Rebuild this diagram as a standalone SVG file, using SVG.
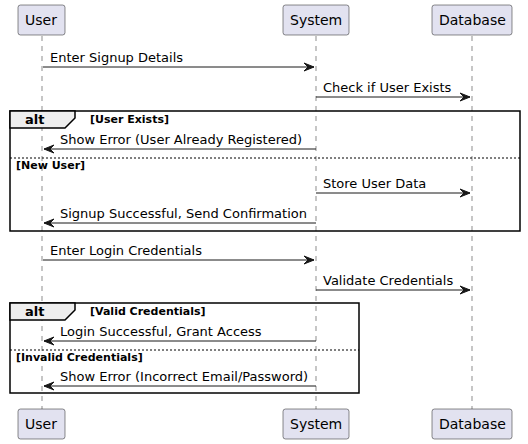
<svg xmlns="http://www.w3.org/2000/svg" width="528" height="444" viewBox="0 0 528 444">
<style>
.part rect{fill:#E2E2F0;stroke:#181818;stroke-width:0.5}
.part text{font-family:"DejaVu Sans",sans-serif;font-size:14px;fill:#000}
.life{stroke:#181818;stroke-width:0.5;stroke-dasharray:5,5}
.msg line{stroke:#181818;stroke-width:1}
.msg polygon{fill:#181818;stroke:#181818;stroke-width:1}
.mt{font-family:"DejaVu Sans",sans-serif;font-size:13px;fill:#000}
.frame{fill:none;stroke:#000;stroke-width:1.5}
.tab{fill:#EEEEEE;stroke:#000;stroke-width:1.5}
.altt{font-family:"DejaVu Sans",sans-serif;font-size:13px;font-weight:bold}
.guard{font-family:"DejaVu Sans",sans-serif;font-size:11px;font-weight:bold}
.sep{stroke:#000;stroke-width:1;stroke-dasharray:2,2}
</style>
<g id="lifelines">
<line class="life" x1="42" y1="36" x2="42" y2="409"/>
<line class="life" x1="316" y1="36" x2="316" y2="409"/>
<line class="life" x1="472" y1="36" x2="472" y2="409"/>
</g>
<g id="alt1">
<rect class="frame" x="10" y="111" width="510" height="120"/>
<path class="tab" d="M10,111 L75,111 L75,118 L65,128 L10,128 Z"/>
<text class="altt" x="25" y="124">alt</text>
<text class="guard" x="90" y="123">[User Exists]</text>
<line class="sep" x1="10" y1="158" x2="520" y2="158"/>
<text class="guard" x="16" y="169">[New User]</text>
</g>
<g id="alt2">
<rect class="frame" x="10" y="303" width="349" height="90"/>
<path class="tab" d="M10,303 L75,303 L75,310 L65,320 L10,320 Z"/>
<text class="altt" x="25" y="316">alt</text>
<text class="guard" x="90" y="315">[Valid Credentials]</text>
<line class="sep" x1="10" y1="350" x2="359" y2="350"/>
<text class="guard" x="16" y="361">[Invalid Credentials]</text>
</g>
<g id="User" class="part">
<rect x="18" y="5" width="47" height="30" rx="2.5"/>
<text x="25" y="25">User</text>
<rect x="18" y="409" width="47" height="30" rx="2.5"/>
<text x="25" y="429">User</text>
</g>
<g id="System" class="part">
<rect x="283" y="5" width="66" height="30" rx="2.5"/>
<text x="290" y="25">System</text>
<rect x="283" y="409" width="66" height="30" rx="2.5"/>
<text x="290" y="429">System</text>
</g>
<g id="Database" class="part">
<rect x="432" y="5" width="80" height="30" rx="2.5"/>
<text x="439" y="25">Database</text>
<rect x="432" y="409" width="80" height="30" rx="2.5"/>
<text x="439" y="429">Database</text>
</g>
<g id="connectors" class="msg">
<line x1="43" y1="67" x2="314" y2="67"/><polygon points="304,63 314,67 304,71 308,67"/>
<text class="mt" x="50" y="62">Enter Signup Details</text>
<line x1="316" y1="97" x2="470" y2="97"/><polygon points="460,93 470,97 460,101 464,97"/>
<text class="mt" x="323" y="92">Check if User Exists</text>
<line x1="44" y1="149" x2="316" y2="149"/><polygon points="54,145 44,149 54,153 50,149"/>
<text class="mt" x="60" y="144">Show Error (User Already Registered)</text>
<line x1="316" y1="193" x2="470" y2="193"/><polygon points="460,189 470,193 460,197 464,193"/>
<text class="mt" x="323" y="188">Store User Data</text>
<line x1="44" y1="223" x2="316" y2="223"/><polygon points="54,219 44,223 54,227 50,223"/>
<text class="mt" x="60" y="218">Signup Successful, Send Confirmation</text>
<line x1="43" y1="260" x2="314" y2="260"/><polygon points="304,256 314,260 304,264 308,260"/>
<text class="mt" x="50" y="255">Enter Login Credentials</text>
<line x1="316" y1="290" x2="470" y2="290"/><polygon points="460,286 470,290 460,294 464,290"/>
<text class="mt" x="323" y="285">Validate Credentials</text>
<line x1="44" y1="341" x2="316" y2="341"/><polygon points="54,337 44,341 54,345 50,341"/>
<text class="mt" x="60" y="336">Login Successful, Grant Access</text>
<line x1="44" y1="386" x2="316" y2="386"/><polygon points="54,382 44,386 54,390 50,386"/>
<text class="mt" x="60" y="381">Show Error (Incorrect Email/Password)</text>
</g>
</svg>
